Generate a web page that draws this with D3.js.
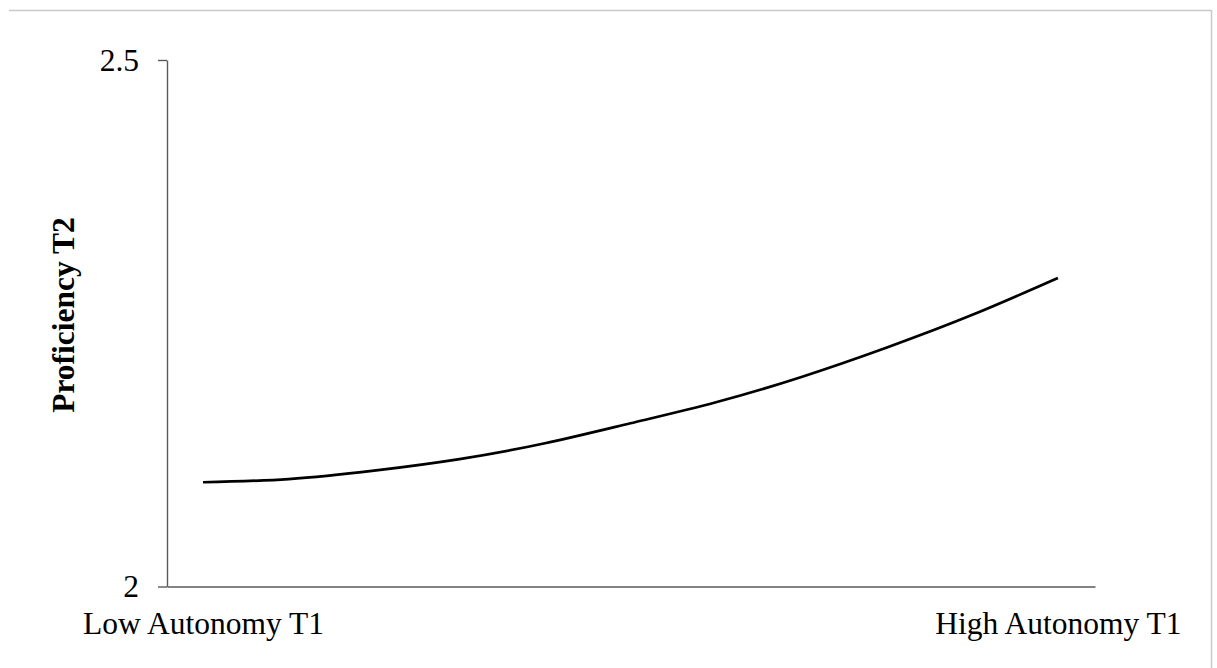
<!DOCTYPE html>
<html>
<head>
<meta charset="utf-8">
<script src="https://cdn.jsdelivr.net/npm/d3@7"></script>
<style>
  html, body { margin: 0; padding: 0; background: #fff; }
  svg { display: block; }
  text { font-family: "Liberation Serif", "Times New Roman", serif; fill: #000; }
</style>
</head>
<body>
<svg id="chart" width="1217" height="668"></svg>
<script>
// Autonomy at T1 (0 = low, 1 = high) and predicted proficiency at T2
const autonomy = [0, 0.1, 0.2, 0.3, 0.4, 0.5, 0.6, 0.7, 0.8, 0.9, 1];
const proficiency = [2.099, 2.102, 2.110, 2.121, 2.136, 2.155, 2.175, 2.199, 2.227, 2.258, 2.293];
const xTickValues = [0, 1];
const xTickLabels = ["Low Autonomy T1", "High Autonomy T1"];
const yTickValues = [2, 2.5];
const yTickLabels = ["2", "2.5"];
const yTitle = "Proficiency T2";

const svg = d3.select("#chart");
const W = 1217, H = 668;

// thin frame along the top and right edges
svg.append("line").attr("x1", 9).attr("x2", 1212).attr("y1", 10.5).attr("y2", 10.5)
  .attr("stroke", "#c9c9c9").attr("stroke-width", 1.5);
svg.append("line").attr("x1", 1211.5).attr("x2", 1211.5).attr("y1", 10).attr("y2", H)
  .attr("stroke", "#c9c9c9").attr("stroke-width", 1.5);

const plot = { left: 167, right: 1095, top: 60, bottom: 586.5 };
const pad = 0.0421; // horizontal inset of the line ends from the axis ends
const x = d3.scaleLinear().domain([-pad, 1 + pad * 1.03]).range([plot.left, plot.right]);
const y = d3.scaleLinear().domain([2, 2.5]).range([plot.bottom, plot.top]);

const axisColor = "#5a5a5a";
const fontSize = "31.5px";

// y axis
const yAxis = svg.append("g")
  .attr("transform", `translate(${plot.left},0)`)
  .call(d3.axisLeft(y).tickValues(yTickValues).tickSize(9).tickSizeOuter(0).tickPadding(19)
    .tickFormat((d, i) => yTickLabels[i]));
yAxis.select(".domain").attr("stroke", axisColor).attr("stroke-width", 1.4);
yAxis.selectAll(".tick line").attr("stroke", axisColor).attr("stroke-width", 1.4);
yAxis.selectAll(".tick text").style("font-family", '"Liberation Serif", serif').style("font-size", fontSize).attr("fill", "#000");

// x axis line
const xAxis = svg.append("g")
  .attr("transform", `translate(0,${plot.bottom})`)
  .call(d3.axisBottom(x).tickValues([]).tickSizeOuter(0));
xAxis.select(".domain").attr("stroke", axisColor).attr("stroke-width", 1.4);

// category labels under the line ends
const xLabels = svg.append("g")
  .attr("transform", `translate(0,${plot.bottom})`)
  .call(d3.axisBottom(x).tickValues(xTickValues).tickSize(0).tickPadding(25)
    .tickFormat((d, i) => xTickLabels[i]));
xLabels.select(".domain").remove();
xLabels.selectAll(".tick text").style("font-family", '"Liberation Serif", serif').style("font-size", fontSize).attr("fill", "#000");

// y axis title
svg.append("text")
  .attr("transform", `translate(74,315) rotate(-90)`)
  .attr("text-anchor", "middle")
  .style("font-size", fontSize)
  .style("font-weight", "bold")
  .text(yTitle);

// prediction line
const line = d3.line()
  .x((d, i) => x(autonomy[i]))
  .y(d => y(d))
  .curve(d3.curveNatural);

svg.append("path")
  .datum(proficiency)
  .attr("d", line)
  .attr("fill", "none")
  .attr("stroke", "#000")
  .attr("stroke-width", 2.7)
  .attr("stroke-linecap", "butt");
</script>
</body>
</html>
